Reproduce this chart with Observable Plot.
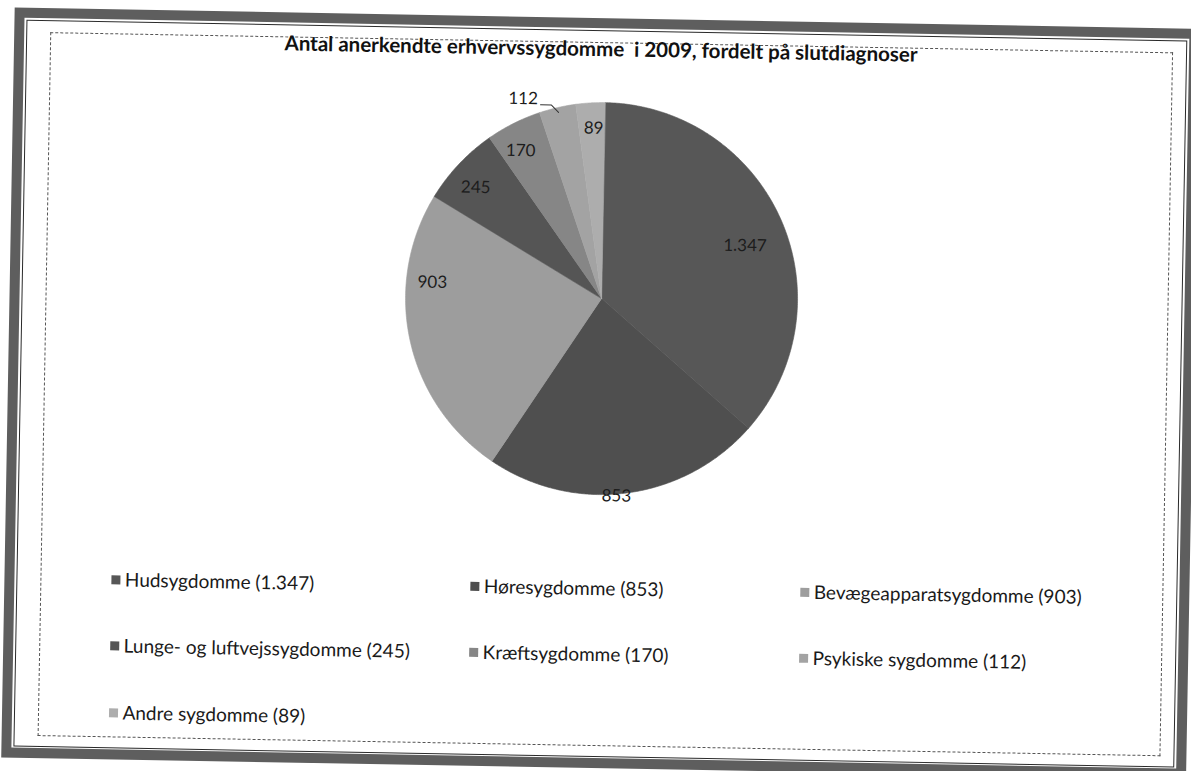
<!DOCTYPE html>
<html>
<head>
<meta charset="utf-8">
<script src="https://cdn.jsdelivr.net/npm/d3@7"></script>
<script src="https://cdn.jsdelivr.net/npm/@observablehq/plot@0.6"></script>
<style>
  html, body { margin: 0; padding: 0; background: #fff; }
  #page { position: relative; width: 1191px; height: 771px; overflow: hidden; background: #fff; font-family: Lato, "Open Sans", sans-serif; color: #1a1a1a; }
  #rot { position: absolute; left: 0; top: 0; width: 1191px; height: 771px; transform: rotate(1.03deg); transform-origin: 595px 385px; }
  .band { position: absolute; left: 8px; top: 18px; width: 1185px; height: 750px; box-sizing: border-box; border: 10px solid #5e5e5e; }
  .line { position: absolute; left: 20px; top: 30px; width: 1161px; height: 727px; box-sizing: border-box; border: 1.5px solid #2a2a2a; }
  .dash { position: absolute; left: 44px; top: 42px; width: 1123px; height: 704px; box-sizing: border-box; border: 1px dashed #555; }
  #title { position: absolute; left: 0; top: 36px; width: 1190px; text-align: center; font-weight: bold; font-size: 20.5px; line-height: 24px; white-space: pre; color: #111; }
  #chart { position: absolute; left: 0; top: 0; }
  .item { position: absolute; display: flex; align-items: center; font-size: 19px; line-height: 24px; white-space: pre; color: #1a1a1a; }
  .sw { width: 9px; height: 9px; margin-right: 5px; }
</style>
</head>
<body>
<div id="page">
  <div id="rot">
    <div class="band"></div>
    <div class="line"></div>
    <div class="dash"></div>
    <div id="title"></div>
    <div id="chart"></div>
    <div id="legend"></div>
  </div>
</div>
<script>
// ---- data ----
const chartTitle = "Antal anerkendte erhvervssygdomme  i 2009, fordelt på slutdiagnoser";
const names = ["Hudsygdomme", "Høresygdomme", "Bevægeapparatsygdomme", "Lunge- og luftvejssygdomme", "Kræftsygdomme", "Psykiske sygdomme", "Andre sygdomme"];
const values = [1347, 853, 903, 245, 170, 112, 89];
const valueLabels = ["1.347", "853", "903", "245", "170", "112", "89"];

// ---- styles / layout ----
const shades = ["#575757", "#4f4f4f", "#9d9d9d", "#555555", "#868686", "#a3a3a3", "#adadad"];
const cx = 599.5, cy = 298, R = 196;
// label placement per slice: [angle nudge (deg), radius fraction, outside?]
const labelPlace = [[3.5, 0.78], [3, 1.01], [17.8, 0.867], [-1.8, 0.857], [-2, 0.86], [0, 0, true], [0.6, 0.87]];
const legendCols = [119, 478, 808], legendRows = [588, 654, 721];

document.getElementById("title").textContent = chartTitle;

const arcs = d3.pie().sort(null).value(d => d)(values);
const deg = Math.PI / 180;

const slicePts = [];
arcs.forEach((a, i) => {
  slicePts.push({name: names[i], x: 0, y: 0});
  const n = Math.max(2, Math.ceil((a.endAngle - a.startAngle) / (0.5 * deg)));
  for (let k = 0; k <= n; k++) {
    const t = a.startAngle + (a.endAngle - a.startAngle) * k / n;
    slicePts.push({name: names[i], x: Math.sin(t), y: Math.cos(t)});
  }
});

const inLabels = [], outLabels = [], leaders = [];
arcs.forEach((a, i) => {
  const mid = (a.startAngle + a.endAngle) / 2;
  const p = labelPlace[i];
  if (p[2]) {
    const t2 = mid - 1.5 * deg;
    const ex = Math.sin(t2) * 1.02, ey = Math.cos(t2) * 1.02;
    leaders.push({k: i, x: Math.sin(mid) * 0.975, y: Math.cos(mid) * 0.975});
    leaders.push({k: i, x: ex, y: ey});
    leaders.push({k: i, x: ex - 0.056, y: ey});
    outLabels.push({label: valueLabels[i], x: ex - 0.07, y: ey});
  } else {
    const t = mid + p[0] * deg;
    inLabels.push({label: valueLabels[i], x: Math.sin(t) * p[1], y: Math.cos(t) * p[1]});
  }
});

const plot = Plot.plot({
  width: 1191,
  height: 771,
  margin: 0,
  style: {background: "transparent", overflow: "visible"},
  x: {domain: [-1, 1], range: [cx - R, cx + R], axis: null},
  y: {domain: [-1, 1], range: [cy + R, cy - R], axis: null},
  color: {domain: names, range: shades},
  marks: [
    Plot.line(slicePts, {x: "x", y: "y", z: "name", fill: "name", stroke: "name", strokeWidth: 0.6, curve: "linear-closed"}),
    Plot.text(inLabels, {x: "x", y: "y", text: "label", fontSize: 17, fontFamily: "Lato", fill: "#1c1c1c"}),
    Plot.line(leaders, {x: "x", y: "y", z: "k", stroke: "#333", strokeWidth: 1}),
    Plot.text(outLabels, {x: "x", y: "y", text: "label", textAnchor: "end", dy: -6, fontSize: 17, fontFamily: "Lato", fill: "#1c1c1c"})
  ]
});
document.getElementById("chart").appendChild(plot);

const legend = document.getElementById("legend");
names.forEach((nm, i) => {
  const col = i % 3, row = Math.floor(i / 3);
  const it = document.createElement("div");
  it.className = "item";
  it.style.left = (legendCols[col] - 4.5) + "px";
  it.style.top = (legendRows[row] - 12) + "px";
  const sw = document.createElement("span");
  sw.className = "sw";
  sw.style.background = shades[i];
  const tx = document.createElement("span");
  tx.textContent = `${nm} (${valueLabels[i]})`;
  it.appendChild(sw);
  it.appendChild(tx);
  legend.appendChild(it);
});
</script>
</body>
</html>
